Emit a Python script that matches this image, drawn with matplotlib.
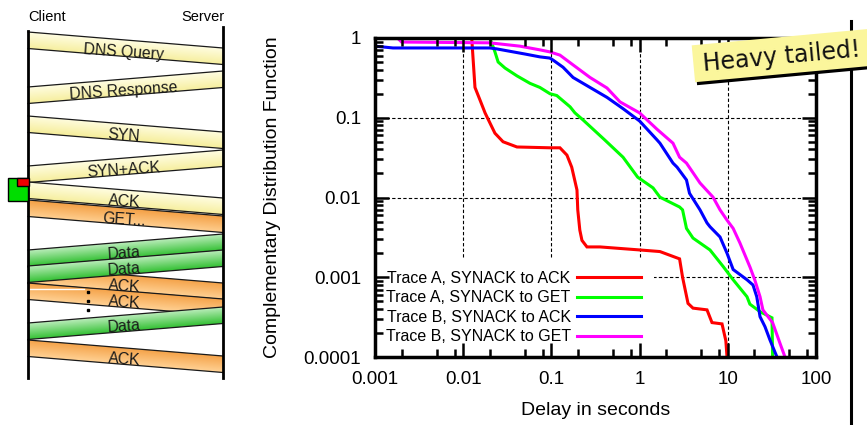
import numpy as np
import matplotlib
matplotlib.use("Agg")
import matplotlib.pyplot as plt
from matplotlib.patches import Polygon
from matplotlib.colors import LinearSegmentedColormap
from matplotlib.ticker import FixedLocator, FixedFormatter, NullFormatter

plt.rcParams['font.family'] = ['Liberation Sans', 'DejaVu Sans']

# ------------------------------------------------------------------ data
x_ticks = [0.001, 0.01, 0.1, 1, 10, 100]
x_tick_labels = ["0.001", "0.01", "0.1", "1", "10", "100"]
y_ticks = [0.0001, 0.001, 0.01, 0.1, 1]
y_tick_labels = ["0.0001", "0.001", "0.01", "0.1", "1"]

series_labels = ["Trace A, SYNACK to ACK", "Trace A, SYNACK to GET",
                 "Trace B, SYNACK to ACK", "Trace B, SYNACK to GET"]
series_colors = ["#ff0000", "#00ff00", "#0000ff", "#ff00ff"]

a_ack_x = [0.001, 0.0125, 0.0129, 0.0136, 0.0155, 0.0177, 0.0201, 0.0229, 0.0283,
           0.0407, 0.0964, 0.125, 0.150, 0.170, 0.195, 0.199, 0.21, 0.222, 0.253,
           0.356, 1.0, 1.70, 2.84, 3.07, 3.54, 4.03, 5.81, 6.62, 8.6, 9.5, 9.8]
a_ack_y = [1.0, 1.0, 0.58, 0.24, 0.167, 0.115, 0.086, 0.064, 0.050,
           0.043, 0.042, 0.042, 0.034, 0.024, 0.0124, 0.0070, 0.0039, 0.0029, 0.0024,
           0.0024, 0.0022, 0.0021, 0.0017, 0.0010, 0.00047, 0.00041, 0.00039, 0.00027, 0.00026, 0.00016, 0.0001]

a_get_x = [0.001, 0.0201, 0.0229, 0.0241, 0.0249, 0.0298, 0.0407, 0.0572, 0.074, 0.0964,
           0.115, 0.163, 0.185, 0.228, 0.40, 0.649, 0.95, 1.42, 1.70, 2.84, 3.07, 3.4,
           4.03, 6.28, 8.83, 11.5, 16.5, 17.8, 23.2, 31.7, 32.2]
a_get_y = [1.0, 1.0, 0.67, 0.56, 0.50, 0.42, 0.335, 0.27, 0.24, 0.20,
           0.19, 0.137, 0.115, 0.094, 0.053, 0.032, 0.018, 0.0132, 0.0101, 0.0076, 0.0070, 0.0041,
           0.0031, 0.0022, 0.00137, 0.00093, 0.00057, 0.00046, 0.00037, 0.00031, 0.0001]

b_ack_x = [0.001, 0.0016, 0.02, 0.024, 0.05, 0.074, 0.096, 0.104, 0.1355, 0.176, 0.274,
           0.427, 0.649, 1.0, 1.57, 1.70, 2.39, 2.66, 3.4, 3.68, 4.84, 5.81, 6.28, 8.16,
           9.8, 11.5, 16.5, 19.3, 21.3, 23.2, 26.4, 30.1, 36.1]
b_ack_y = [0.79, 0.75, 0.75, 0.73, 0.63, 0.58, 0.56, 0.53, 0.43, 0.32, 0.24,
           0.18, 0.13, 0.091, 0.053, 0.048, 0.027, 0.024, 0.0166, 0.0113, 0.0070, 0.0048, 0.0043, 0.0032,
           0.0020, 0.00125, 0.00093, 0.00080, 0.00057, 0.00032, 0.00024, 0.000163, 0.0001]

b_get_x = [0.001, 0.0018, 0.002, 0.02, 0.044, 0.074, 0.096, 0.125, 0.176, 0.274, 0.427,
           0.60, 1.0, 1.57, 2.39, 2.84, 3.4, 4.84, 6.8, 8.16, 9.8, 11.5, 13.7, 17.9, 20.2,
           23.2, 25.0, 28.6, 32.2, 39.1, 44.5]
b_get_y = [1.0, 1.0, 0.89, 0.87, 0.79, 0.71, 0.67, 0.61, 0.46, 0.32, 0.236,
           0.158, 0.115, 0.072, 0.048, 0.032, 0.027, 0.0152, 0.0101, 0.0070, 0.0052, 0.0041, 0.0027, 0.00133, 0.00093,
           0.00057, 0.00039, 0.00032, 0.00027, 0.000148, 0.0001]

series_x = [a_ack_x, a_get_x, b_ack_x, b_get_x]
series_y = [a_ack_y, a_get_y, b_ack_y, b_get_y]

# message sequence diagram (left panel)
msg_labels = ["DNS Query", "DNS Response", "SYN", "SYN+ACK", "ACK", "GET...",
              "Data", "ACK", "Data", "ACK", "Data", "ACK"]
msg_dirs = ["down", "up", "down", "up", "down", "down",
            "up", "down", "up", "down", "up", "down"]
msg_kinds = ["yellow", "yellow", "yellow", "yellow", "yellow", "orange",
             "green", "orange", "green", "orange", "green", "orange"]
msg_client_y = [32, 87, 116, 166, 182, 200, 250, 267, 266, 283, 323, 340]

# ------------------------------------------------------------------ figure
fig = plt.figure(figsize=(8.67, 4.25), dpi=100)
W, H = 867, 425

ax = fig.add_axes([375 / W, (H - 357) / H, 441 / W, 319 / H])
ax.set_xscale('log')
ax.set_yscale('log')
ax.set_xlim(x_ticks[0], x_ticks[-1])
ax.set_ylim(y_ticks[0], y_ticks[-1])

for xs, ys, lab, col in zip(series_x, series_y, series_labels, series_colors):
    ax.plot(xs, ys, color=col, lw=2.2, label=lab, zorder=2, solid_joinstyle='miter')

for v in x_ticks[1:-1]:
    ax.axvline(v, color='black', lw=0.8, ls=(0, (3, 2)), zorder=1)
for v in y_ticks[1:-1]:
    ax.axhline(v, color='black', lw=0.8, ls=(0, (3, 2)), zorder=1)

ax.xaxis.set_major_locator(FixedLocator(x_ticks))
ax.xaxis.set_major_formatter(FixedFormatter(x_tick_labels))
ax.yaxis.set_major_locator(FixedLocator(y_ticks))
ax.yaxis.set_major_formatter(FixedFormatter(y_tick_labels))
ax.xaxis.set_minor_locator(FixedLocator([m * 10.0 ** e for e in range(-3, 2) for m in (2, 5, 8)]))
ax.yaxis.set_minor_locator(FixedLocator([m * 10.0 ** e for e in range(-4, 0) for m in range(2, 10)]))
ax.xaxis.set_minor_formatter(NullFormatter())
ax.yaxis.set_minor_formatter(NullFormatter())
ax.tick_params(which='both', direction='in', top=True, right=True, width=1.8,
               labelsize=13.5, pad=10)
ax.tick_params(which='major', length=10)
ax.tick_params(which='minor', length=5.5)
for s in ax.spines.values():
    s.set_linewidth(2.5)
    s.set_zorder(6)
ax.xaxis.set_zorder(6)
ax.yaxis.set_zorder(6)

ax.set_xlabel("Delay in seconds", fontsize=14, labelpad=10)
ax.set_ylabel("Complementary Distribution Function", fontsize=14, labelpad=16)

leg = ax.legend(loc='lower left', bbox_to_anchor=(-0.005, 0.0), borderaxespad=0,
                borderpad=0.8, fontsize=11.5, markerfirst=False, handlelength=4.0,
                handletextpad=0.4, labelspacing=0.28, frameon=True, fancybox=False,
                framealpha=1, facecolor='white', edgecolor='none')
leg.set_zorder(4)

# ------------------------------------------------------------------ overlay
ov = fig.add_axes([0, 0, 1, 1], zorder=10)
ov.set_axis_off()

L, R = 28, 223
rise, thick = 16, 16.5
cmaps = {
    'yellow': LinearSegmentedColormap.from_list('y', ['#fffde2', '#f6ee9c']),
    'orange': LinearSegmentedColormap.from_list('o', ['#f4a045', '#ffd092']),
    'green': LinearSegmentedColormap.from_list('g', ['#c2efc2', '#38c238']),
}
angle = np.degrees(np.arctan2(rise, R - L))
for i, (lab, d, kind, y0) in enumerate(zip(msg_labels, msg_dirs, msg_kinds, msg_client_y)):
    tl = y0
    tr = y0 + rise if d == 'down' else y0 - rise
    z = 1 + i * 0.1
    patch = Polygon([(L, tl), (R, tr), (R, tr + thick), (L, tl + thick)], closed=True,
                    facecolor='none', edgecolor='none', transform=ov.transData)
    ov.add_patch(patch)
    xs = np.linspace(L, R, 120)
    ymin, ymax = min(tl, tr), max(tl, tr) + thick
    ys = np.linspace(ymin, ymax, 80)
    X, Y = np.meshgrid(xs, ys)
    top = tl + (tr - tl) * (X - L) / (R - L)
    frac = np.clip((Y - top) / thick, 0, 1)
    im = ov.imshow(frac, cmap=cmaps[kind], vmin=0, vmax=1, extent=(L, R, ymax, ymin),
                   origin='upper', aspect='auto', interpolation='bilinear', zorder=z)
    im.set_clip_path(patch)
    ov.plot([L, R], [tl, tr], color='#1a1a1a', lw=0.9, zorder=z + 0.01)
    ov.plot([L, R], [tl + thick, tr + thick], color='#1a1a1a', lw=0.9, zorder=z + 0.01)
    rot = -angle * 0.8 if d == 'down' else angle * 0.8
    cy = (tl + tr) / 2 + thick / 2 + 3.5
    ov.text(124, cy, lab, fontsize=11.3, color='#1a1a1a', ha='center', va='center',
            rotation=rot, rotation_mode='anchor', zorder=5)

# white artifact line and continuation dots
ov.plot([30, 84], [289, 289], color='white', lw=1.0, zorder=4)
ov.plot([88, 88, 88], [292, 301, 310], 's', ms=1.6, color='black', zorder=5)

# lifelines
ov.plot([L, L], [31, 378], color='black', lw=2, zorder=6)
ov.plot([R, R], [27, 378], color='black', lw=2, zorder=6)
ov.text(L, 17, "Client", fontsize=10.5, ha='left', va='center', zorder=6)
ov.text(R + 1, 17, "Server", fontsize=10.5, ha='right', va='center', zorder=6)

# timer squares
ov.add_patch(Polygon([(8, 178), (28, 178), (28, 201), (8, 201)], closed=True,
                     facecolor='#00dd00', edgecolor='black', lw=1, zorder=7))
ov.add_patch(Polygon([(17, 178), (29, 178), (29, 186), (17, 186)], closed=True,
                     facecolor='#ee0000', edgecolor='black', lw=1, zorder=7))

# right-hand vertical rule
ov.plot([851, 851], [21, 425], color='black', lw=2.2, zorder=6)

# sticky note
a = np.radians(5.3)
cx, cy = 788, 55
wn, hn = 190, 37
u = np.array([np.cos(a), -np.sin(a)]) * wn / 2
v = np.array([np.sin(a), np.cos(a)]) * hn / 2
c = np.array([cx, cy])
corners = [c - u - v, c + u - v, c + u + v, c - u + v]
shadow = [p + np.array([2, 3]) for p in corners]
ov.add_patch(Polygon(shadow, closed=True, facecolor='black', edgecolor='none', zorder=8))
ov.add_patch(Polygon(corners, closed=True, facecolor='#fbf69c', edgecolor='none', zorder=9))
ov.text(782, 57, "Heavy tailed!", fontsize=17, family=['DejaVu Sans'], color='#111111',
        ha='center', va='center', rotation=5.3, rotation_mode='anchor', zorder=10)

ov.set_xlim(0, W)
ov.set_ylim(H, 0)

fig.savefig("out.png", dpi=100)
